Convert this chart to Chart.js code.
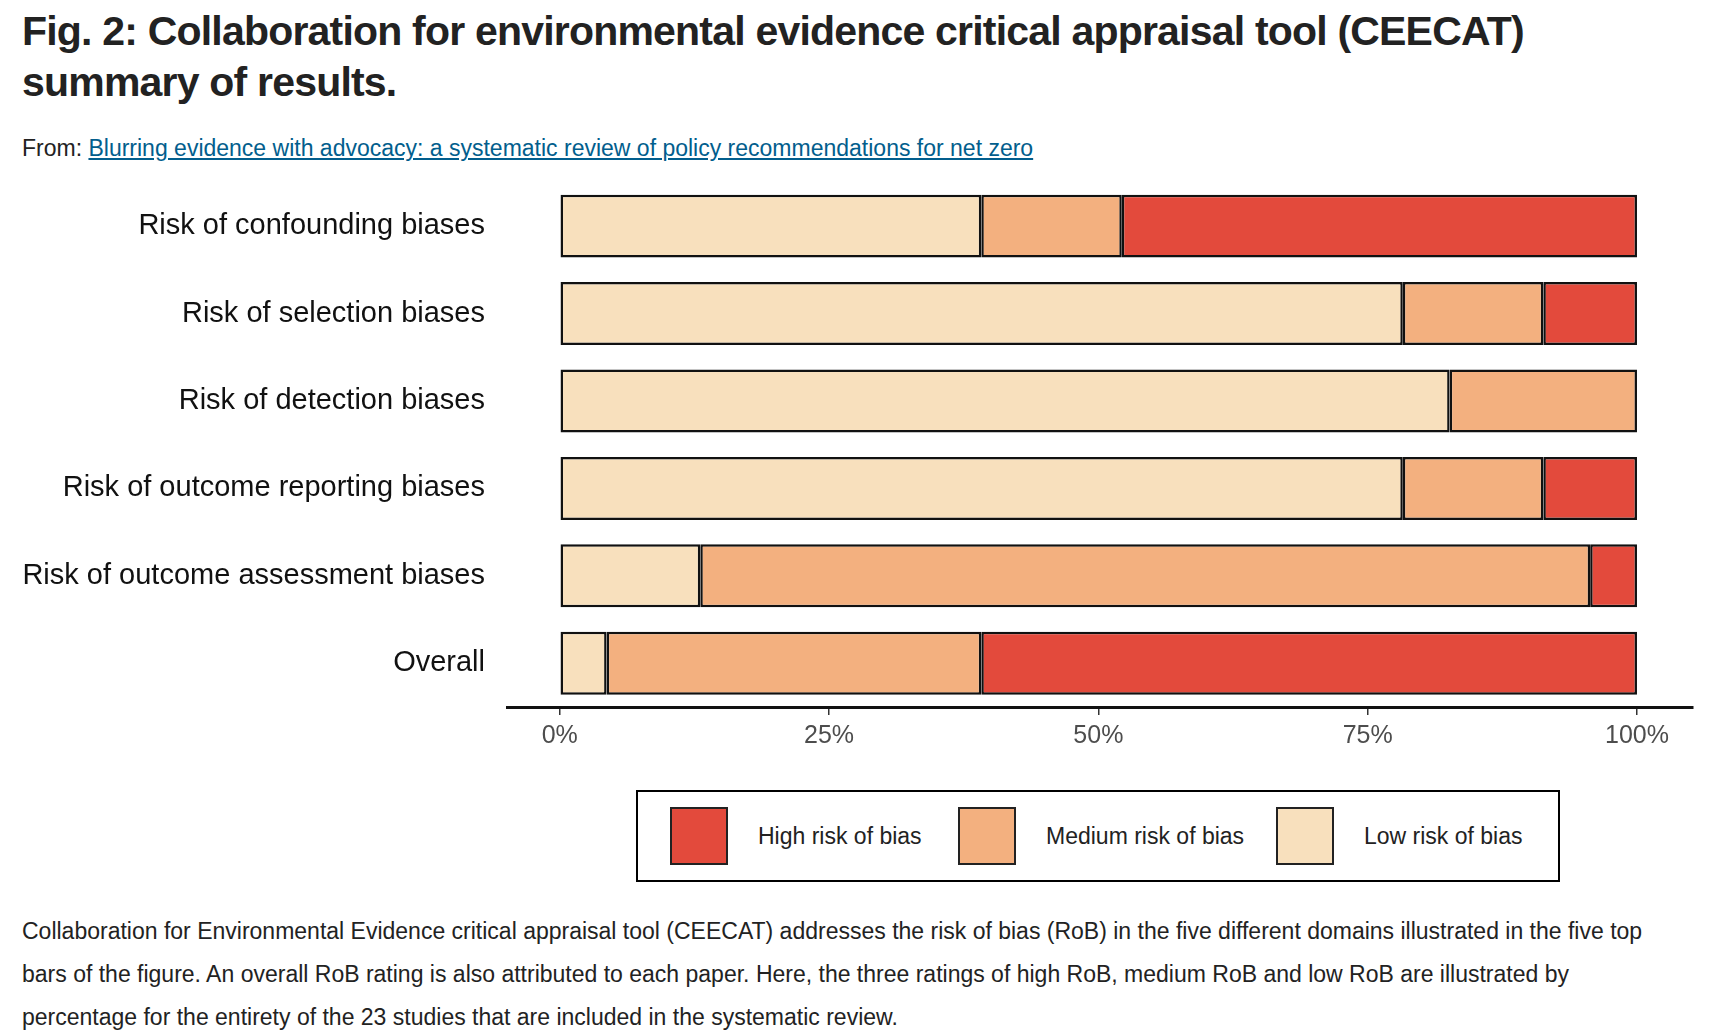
<!DOCTYPE html>
<html lang="en">
<head>
<meta charset="UTF-8">
<title>CEECAT summary</title>
<style>
  body { margin: 0; font-family: "Liberation Sans", Arial, sans-serif; color: #222; background: #fff; }
  h1 { position: absolute; left: 22px; top: 6px; margin: 0; font-size: 41px; line-height: 51px; font-weight: bold; letter-spacing: -0.8px; width: 1600px; }
  .from { position: absolute; left: 22px; top: 135px; font-size: 23px; }
  .from a { color: #025e8d; }
  .wrap { position: absolute; left: 0; top: 151px; width: 1710px; height: 606px; }
  .legend { position: absolute; left: 636px; top: 790px; width: 924px; height: 92px; border: 2.5px solid #000; box-sizing: border-box; display: flex; align-items: center; font-size: 23px; }
  .legend span.box { display: inline-block; width: 58px; height: 58px; border: 2.5px solid #222; box-sizing: border-box; margin: 0 30px 0 32px; }
  .cap { position: absolute; left: 22px; top: 910px; width: 1660px; font-size: 23px; line-height: 43px; }
</style>
</head>
<body>
<h1>Fig. 2: Collaboration for environmental evidence critical appraisal tool (CEECAT) summary of results.</h1>
<div class="from">From: <a href="#">Blurring evidence with advocacy: a systematic review of policy recommendations for net zero</a></div>
<div class="wrap"><canvas id="rob"></canvas></div>
<div class="legend">
  <span class="box" style="background:#e34a3c"></span><span style="width:200px">High risk of bias</span>
  <span class="box" style="background:#f3b07f;margin-left:0"></span><span style="width:230px">Medium risk of bias</span>
  <span class="box" style="background:#f8e0bd;margin-left:0"></span><span>Low risk of bias</span>
</div>
<div class="cap">Collaboration for Environmental Evidence critical appraisal tool (CEECAT) addresses the risk of bias (RoB) in the five different domains illustrated in the five top bars of the figure. An overall RoB rating is also attributed to each paper. Here, the three ratings of high RoB, medium RoB and low RoB are illustrated by percentage for the entirety of the 23 studies that are included in the systematic review.</div>
<script src="https://cdn.jsdelivr.net/npm/chart.js"></script>
<script>
  const domains = ['Risk of confounding biases', 'Risk of selection biases', 'Risk of detection biases',
                   'Risk of outcome reporting biases', 'Risk of outcome assessment biases', 'Overall'];
  // number of studies (of 23) in each rating
  const lowRisk = [9, 18, 19, 18, 3, 1];
  const mediumRisk = [3, 3, 4, 3, 19, 8];
  const highRisk = [11, 2, 0, 2, 1, 14];
  const tickValues = [0, 25, 50, 75, 100];
  const total = 23;

  const pct = arr => arr.map(v => v / total * 100);
  const ds = (label, data, color) => ({
    label, data: pct(data), backgroundColor: color, borderColor: '#111', borderWidth: 2.5,
    borderSkipped: false, barPercentage: 0.72, categoryPercentage: 1
  });

  new Chart(document.getElementById('rob'), {
    type: 'bar',
    data: {
      labels: domains,
      datasets: [
        ds('Low risk of bias', lowRisk, '#f8e0bd'),
        ds('Medium risk of bias', mediumRisk, '#f3b07f'),
        ds('High risk of bias', highRisk, '#e34a3c')
      ]
    },
    options: {
      indexAxis: 'y',
      responsive: true,
      maintainAspectRatio: false,
      animation: false,
      layout: { padding: { top: 17, right: 17 } },
      plugins: { legend: { display: false }, tooltip: { enabled: false } },
      scales: {
        x: {
          stacked: true, min: -4.9, max: 105.2,
          afterBuildTicks: axis => { axis.ticks = tickValues.map(v => ({ value: v })); },
          grid: { drawOnChartArea: false, drawTicks: true, tickLength: 8, color: '#333', lineWidth: 1.5 },
          border: { display: true, color: '#111', width: 3 },
          ticks: { color: '#4d4d4d', font: { size: 25, family: 'Liberation Sans' }, padding: 6, callback: v => v + '%' }
        },
        y: {
          stacked: true,
          afterFit: axis => { axis.width = 507; },
          grid: { display: false },
          border: { display: false },
          ticks: { color: '#111', font: { size: 29, family: 'Liberation Sans' }, padding: 14 }
        }
      }
    }
  });
</script>
</body>
</html>
